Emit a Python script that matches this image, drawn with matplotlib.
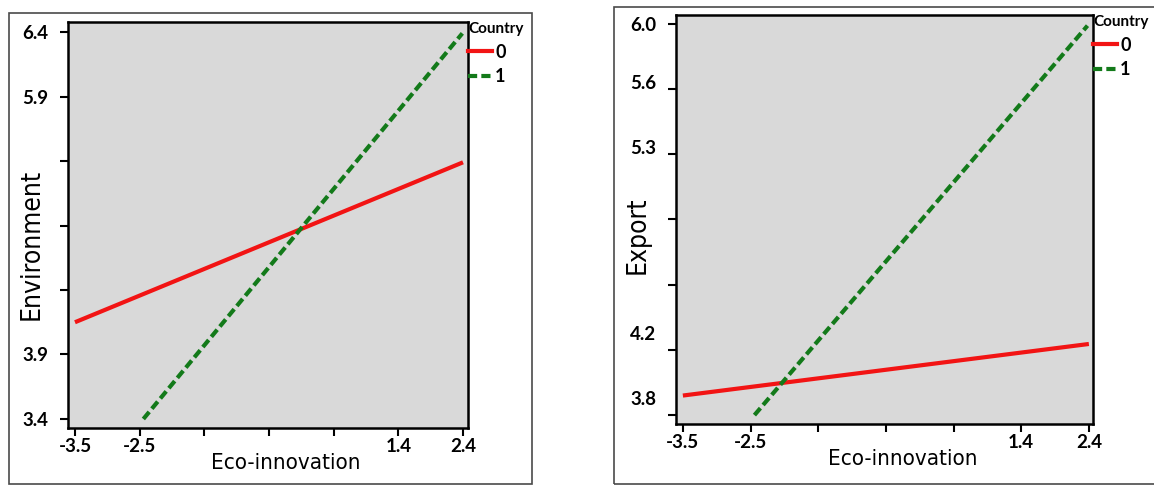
import numpy as np
import matplotlib
matplotlib.use("Agg")
import matplotlib.pyplot as plt
import matplotlib.patches as mpatches
import matplotlib.transforms as mtransforms
from matplotlib.lines import Line2D

# data
eco_ticks = np.linspace(-3.5, 2.4, 7)
eco_labels = ['-3.5', '-2.5', '', '', '', '1.4', '2.4']

env_ticks = np.linspace(3.4, 6.4, 7)
env_labels = ['3.4', '3.9', '', '', '', '5.9', '6.4']
exp_ticks = np.linspace(3.8, 6.0, 7)
exp_labels = ['3.8', '4.2', '', '', '5.3', '5.6', '6.0']

# Environment panel (country 0 / country 1)
env_x0 = [-3.5, 2.4]
env_y0 = [4.15, 5.39]
env_x1 = [-2.46, 2.39]
env_y1 = [3.40, 6.39]

# Export panel
exp_x0 = [-3.5, 2.4]
exp_y0 = [3.91, 4.20]
exp_x1 = [-2.46, 2.38]
exp_y1 = [3.80, 5.99]

W, H = 1154, 486
fig = plt.figure(figsize=(W / 100, H / 100), dpi=100)

tick_font = dict(family=['Lato', 'DejaVu Sans'], weight='bold', size=13.5)
xlabel_font = dict(family=['DejaVu Sans'], stretch='condensed', size=16)
ylabel_font = dict(family=['DejaVu Sans'], stretch='condensed', size=19)
red = '#f21414'
green = '#137a1a'


def px_axes(l, t, r, b):
    return fig.add_axes([l / W, 1 - b / H, (r - l) / W, (b - t) / H])


def frame(l, t, r, b):
    rect = mpatches.Rectangle((l / W, 1 - b / H), (r - l) / W, (b - t) / H,
                              transform=fig.transFigure, fill=False,
                              edgecolor='#4a4a4a', linewidth=1.2)
    fig.patches.append(rect)


def style(ax, yticks, ylabels, xlim, ylim, ylabel, xlab_pos, ylab_pos):
    ax.set_facecolor('#d9d9d9')
    for s in ax.spines.values():
        s.set_linewidth(1.8)
        s.set_color('black')
    ax.set_xlim(xlim)
    ax.set_ylim(ylim)
    ax.set_xticks(eco_ticks)
    ax.set_xticklabels(eco_labels, **tick_font)
    ax.set_yticks(yticks)
    ax.set_yticklabels(ylabels, **tick_font)
    ax.tick_params(direction='out', length=6, width=1.5)
    ax.tick_params(axis='x', pad=1)
    ax.tick_params(axis='y', pad=8)
    ax.set_xlabel('Eco-innovation', **xlabel_font)
    ax.set_ylabel(ylabel, **ylabel_font)
    ax.xaxis.set_label_coords(*xlab_pos)
    ax.yaxis.set_label_coords(*ylab_pos)
    handles = [Line2D([], [], color=red, lw=3),
               Line2D([], [], color=green, lw=3, ls=(0, (2.2, 1)))]
    leg = ax.legend(handles, ['0', '1'], title='Country', loc='upper left',
                    bbox_to_anchor=(1.0, 1.0), frameon=False,
                    handlelength=1.35, handletextpad=0.15, labelspacing=0.42,
                    borderaxespad=0, borderpad=0.0,
                    prop=dict(family=['Lato', 'DejaVu Sans'], weight='bold', size=13),
                    title_fontproperties=dict(family=['Lato', 'DejaVu Sans'], weight='bold', size=11))
    leg._legend_box.align = 'left'
    return leg


frame(9, 13, 532, 484)
frame(614, 7, 1160, 484)

ax1 = px_axes(68, 22, 468, 428)
ax1.plot(env_x0, env_y0, color=red, lw=3, solid_capstyle='butt')
ax1.plot(env_x1, env_y1, color=green, lw=3, ls=(0, (2.2, 1)))
style(ax1, env_ticks, env_labels, (-3.606, 2.476), (3.33, 6.478), 'Environment',
      (0.545, -0.062), (-0.058, 0.453))

ax2 = px_axes(676, 15, 1093, 424)
ax2.plot(exp_x0, exp_y0, color=red, lw=3, solid_capstyle='butt')
ax2.plot(exp_x1, exp_y1, color=green, lw=3, ls=(0, (2.2, 1)))
style(ax2, exp_ticks, exp_labels, (-3.60, 2.46), (3.75, 6.05), 'Export',
      (0.544, -0.06), (-0.06, 0.462))

# the scanned figure has its lower y labels sitting a little above their ticks
shift_px = [17, 17, 0, 0, 7, 7, 0]
for lab, dy in zip(ax2.get_yticklabels(), shift_px):
    lab.set_transform(lab.get_transform() +
                      mtransforms.ScaledTranslation(0, dy / 100, fig.dpi_scale_trans))

fig.savefig('out.png', dpi=100)
